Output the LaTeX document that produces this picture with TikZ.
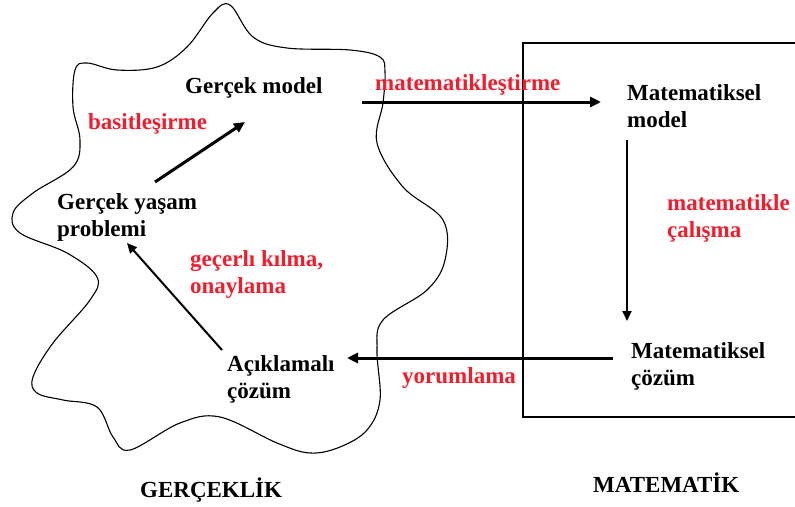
\documentclass[tikz,border=0pt]{standalone}
\usepackage{fontspec}
\setmainfont{Liberation Serif}
\usetikzlibrary{arrows.meta}
\definecolor{labelred}{RGB}{240,30,45}
\tikzset{
  stage/.style={anchor=base west, inner sep=0pt, align=left,
    font=\bfseries\fontsize{23}{27}\selectfont},
  action/.style={stage, text=labelred},
  bigarrow/.style={line width=3pt, -{Triangle[length=11pt,width=10pt]}},
  thinarrow/.style={line width=2pt, -{Triangle[length=10pt,width=9pt]}},
}
\begin{document}
\begin{tikzpicture}[x=1pt,y=-1pt]
  \useasboundingbox (0,0) rectangle (795,506);
  %% reality: wavy blob
  \draw[line width=1.1pt] plot[smooth cycle, tension=0.6] coordinates {
    (230,5) (253,37) (287,48) (350,50) (380,57) (385,72) (383,103)
    (377,143) (403,187) (443,220) (445,260) (427,290) (383,320)
    (377,350) (380,400) (367,430) (340,447) (310,453) (277,443)
    (220,417) (180,423) (130,450) (113,437) (97,407) (63,400)
    (37,393) (33,377) (53,343) (90,300) (97,277) (67,253) (20,233)
    (13,213) (33,193) (73,167) (80,140) (73,107) (75,70) (87,63)
    (117,70) (157,67) (187,47) (213,13)};
  %% mathematics: open frame
  \draw[line width=1.4pt] (797,43) -- (523,43) -- (523,417) -- (797,417);

  %% stages (two-line nodes sit on their last baseline)
  \node[stage] (gmodel) at (185,93) {Gerçek model};
  \node[stage] (problem) at (57,236) {Gerçek yaşam\\problemi};
  \node[stage] (solution) at (227,398) {Açıklamalı\\çözüm};
  \node[stage] (mmodel) at (627,127) {Matematiksel\\model};
  \node[stage] (msolution) at (631,385) {Matematiksel\\çözüm};
  \node[stage] (reality) at (140,497) {GERÇEKLİK};
  \node[stage] (maths) at (593,492) {MATEMATİK};

  %% actions
  \node[action] (simplify) at (88,129) {basitleşirme};
  \node[action] (validate) at (190,293) {geçerlı kılma,\\onaylama};
  \node[action] (mathematise) at (375,90) {matematikleştirme};
  \node[action] (work) at (667,237) {matematikle\\çalışma};
  \node[action] (interpret) at (402,383) {yorumlama};

  %% arrow ends
  \coordinate (simplify-s) at (155,182);
  \coordinate (simplify-e) at (245,122);
  \coordinate (validate-s) at (222,350);
  \coordinate (validate-e) at (127,243);
  \coordinate (mathematise-s) at (362,102);
  \coordinate (mathematise-e) at (601,102);
  \coordinate (work-s) at (627,140);
  \coordinate (work-e) at (627,321);
  \coordinate (interpret-s) at (613,358);
  \coordinate (interpret-e) at (347,358);

  \foreach \a in {simplify,mathematise,interpret}
    \draw[bigarrow] (\a-s) -- (\a-e);
  \foreach \a in {validate,work}
    \draw[thinarrow] (\a-s) -- (\a-e);
\end{tikzpicture}
\end{document}
